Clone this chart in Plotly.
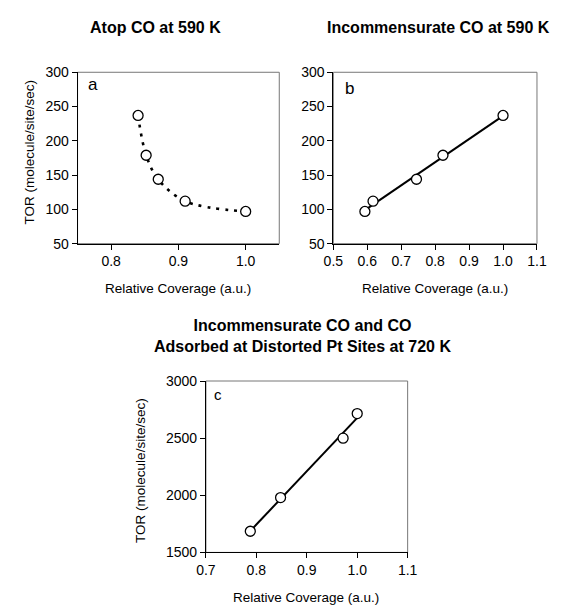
import numpy as np
import plotly.graph_objects as go

# Panel a: atop CO at 590 K
cov_a = [0.840, 0.852, 0.870, 0.910, 1.000]
tor_a = [237, 179, 144, 112, 97]

# Panel b: incommensurate CO at 590 K
cov_b = [0.593, 0.617, 0.745, 0.823, 1.000]
tor_b = [97, 112, 144, 179, 237]

# Panel c: incommensurate CO + CO at distorted Pt sites, 720 K
cov_c = [0.788, 0.848, 0.972, 1.000]
tor_c = [1685, 1980, 2500, 2715]

titles = ["Atop CO at 590 K", "Incommensurate CO at 590 K",
          "Incommensurate CO and CO<br>Adsorbed at Distorted Pt Sites at 720 K"]
xlabel = "Relative Coverage (a.u.)"
ylabel = "TOR (molecule/site/sec)"

W, H = 574, 613
FONT = "Liberation Sans, Arial, sans-serif"


def px_x(p):
    return p / W


def px_y(p):
    return 1 - p / H


fig = go.Figure()

marker = dict(symbol="circle", size=10, color="white",
              line=dict(color="black", width=1.3))

# a: dotted guide curve + points
fig.add_trace(go.Scatter(x=cov_a, y=tor_a, mode="lines", xaxis="x", yaxis="y",
                         line=dict(color="black", width=2.6, dash="3px,6px", shape="spline", smoothing=1.0),
                         showlegend=False, hoverinfo="skip"))
fig.add_trace(go.Scatter(x=cov_a, y=tor_a, mode="markers", xaxis="x", yaxis="y",
                         marker=marker, showlegend=False))

# b and c: least-squares lines + points
for xs, ys, xa, ya in [(cov_b, tor_b, "x2", "y2"), (cov_c, tor_c, "x3", "y3")]:
    k, b0 = np.polyfit(xs, ys, 1)
    xf = np.array([min(xs), max(xs)])
    fig.add_trace(go.Scatter(x=xf, y=k * xf + b0, mode="lines", xaxis=xa, yaxis=ya,
                             line=dict(color="black", width=2), showlegend=False, hoverinfo="skip"))
    fig.add_trace(go.Scatter(x=xs, y=ys, mode="markers", xaxis=xa, yaxis=ya,
                             marker=marker, showlegend=False))

tickfont = dict(family=FONT, size=14, color="black")
common = dict(showline=True, linecolor="black", linewidth=1, ticks="outside",
              ticklen=5, tickcolor="black", showgrid=False, zeroline=False,
              tickfont=tickfont, fixedrange=True)

fig.update_layout(
    width=W, height=H, margin=dict(l=0, r=0, t=0, b=0),
    paper_bgcolor="white", plot_bgcolor="white",
    font=dict(family=FONT, color="black"),
    xaxis=dict(domain=[px_x(70), px_x(279)], range=[0.75, 1.05],
               tickvals=[0.8, 0.9, 1.0], ticktext=["0.8", "0.9", "1.0"], anchor="y", **common),
    yaxis=dict(domain=[px_y(242), px_y(66)], range=[50, 300], dtick=50, anchor="x", **common),
    xaxis2=dict(domain=[px_x(335), px_x(546)], range=[0.5, 1.1], dtick=0.1,
                tickformat=".1f", anchor="y2", **common),
    yaxis2=dict(domain=[px_y(242), px_y(66)], range=[50, 300], dtick=50, anchor="x2", **common),
    xaxis3=dict(domain=[px_x(203), px_x(412)], range=[0.7, 1.1], dtick=0.1,
                tickformat=".1f", anchor="y3", **common),
    yaxis3=dict(domain=[px_y(559), px_y(383)], range=[1500, 3000], dtick=500, anchor="x3", **common),
)

# light frame on top/right sides
for suf in ["", "2", "3"]:
    fig.add_shape(type="rect", xref=f"x{suf} domain", yref=f"y{suf} domain",
                  x0=0, x1=1, y0=0, y1=1, line=dict(color="#777", width=1), layer="below")

ann = []
titlefont = dict(family=FONT, size=16, color="black")
ann.append(dict(text=f"<b>{titles[0]}</b>", x=px_x(151), y=px_y(20)))
ann.append(dict(text=f"<b>{titles[1]}</b>", x=px_x(444), y=px_y(20)))
ann.append(dict(text="<b>" + titles[2].replace("<br>", "</b><br><b>") + "</b>",
                x=px_x(303), y=px_y(337)))
for a in ann:
    a.update(xref="paper", yref="paper", showarrow=False, font=titlefont,
             xanchor="center", yanchor="middle")

labfont = dict(family=FONT, size=13.5, color="black")
for txt, x, y in [(xlabel, 174, 288), (xlabel, 440, 288), (xlabel, 307, 605)]:
    ann.append(dict(text=txt, x=px_x(x), y=px_y(y), xref="paper", yref="paper",
                    showarrow=False, font=labfont, xanchor="center", yanchor="middle"))
for x, y in [(20, 148), (135, 475)]:
    ann.append(dict(text=ylabel, x=px_x(x), y=px_y(y), xref="paper", yref="paper",
                    showarrow=False, font=labfont, textangle=-90,
                    xanchor="center", yanchor="middle"))

for txt, x, y, sz in [("a", 86, 79, 17), ("b", 352, 83, 17), ("c", 215, 397, 15)]:
    ann.append(dict(text=txt, x=px_x(x), y=px_y(y), xref="paper", yref="paper",
                    showarrow=False, font=dict(family=FONT, size=sz, color="black"),
                    xanchor="center", yanchor="middle"))

fig.update_layout(annotations=ann)
fig.write_html("out.html")
